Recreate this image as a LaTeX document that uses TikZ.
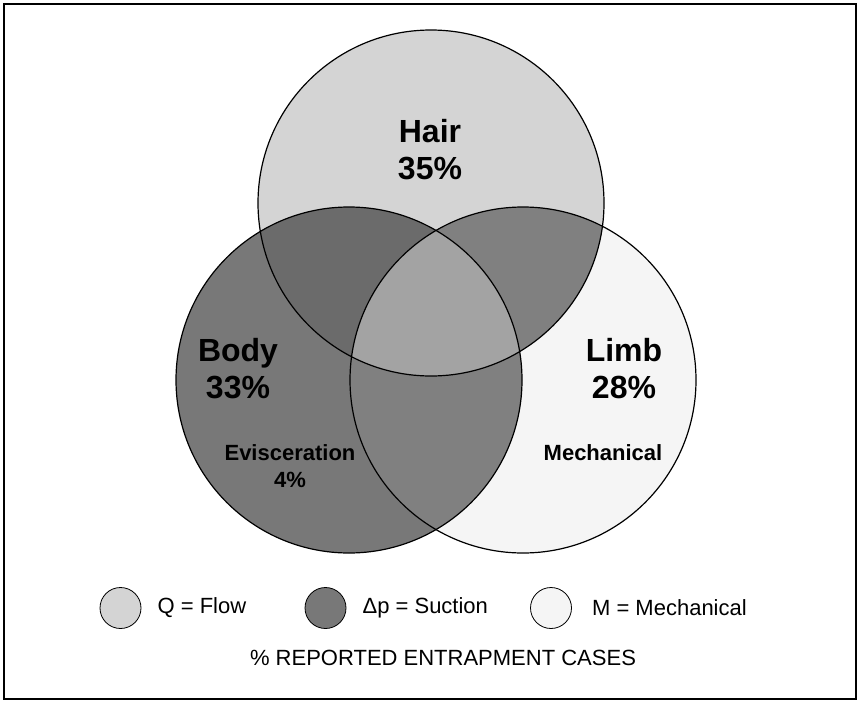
\documentclass[tikz,border=0pt]{standalone}
\usepackage{fontspec}
\setmainfont{Liberation Sans}
\usetikzlibrary{positioning}

\definecolor{flowfill}{gray}{0.83}
\definecolor{suctionfill}{gray}{0.47}
\definecolor{mechfill}{gray}{0.96}
\definecolor{hairbody}{gray}{0.42}
\definecolor{hairlimb}{gray}{0.50}
\definecolor{bodylimb}{gray}{0.50}
\definecolor{allthree}{gray}{0.64}

\begin{document}
\begin{tikzpicture}[
    x=1pt, y=-1pt,
    ring/.style={circle, draw=black, line width=1.2pt, minimum size=346pt, inner sep=0pt},
    key/.style={circle, draw=black, line width=0.8pt, minimum size=41pt, inner sep=0pt},
    big/.style={font=\fontsize{32}{37}\selectfont\bfseries, align=center},
    small/.style={font=\fontsize{22}{27}\selectfont\bfseries, align=center},
    legend/.style={font=\fontsize{22}{24}\selectfont, inner sep=0pt}
]
    \useasboundingbox (0,0) rectangle (858,701);
    \draw[line width=2pt] (3.5,4.5) rectangle (856,699);

    \coordinate (hairc) at (431,203);
    \coordinate (bodyc) at (349,380);
    \coordinate (limbc) at (523,380);

    % base fills
    \fill[flowfill] (hairc) circle (173);
    \fill[suctionfill] (bodyc) circle (173);
    \fill[mechfill] (limbc) circle (173);

    % overlaps
    \begin{scope}
        \clip (hairc) circle (173);
        \fill[hairbody] (bodyc) circle (173);
        \fill[hairlimb] (limbc) circle (173);
    \end{scope}
    \begin{scope}
        \clip (bodyc) circle (173);
        \fill[bodylimb] (limbc) circle (173);
        \clip (limbc) circle (173);
        \fill[allthree] (hairc) circle (173);
    \end{scope}

    \node[ring] (hair) at (hairc) {};
    \node[ring] (body) at (bodyc) {};
    \node[ring] (limb) at (limbc) {};

    \node[big] (hairlbl) at (430,150) {Hair\\35\%};
    \node[big] (bodylbl) at (238,369) {Body\\33\%};
    \node[big] (limblbl) at (624,369) {Limb\\28\%};
    \node[small] (evisc) at (290,466) {Evisceration\\4\%};
    \node[small] (mech) at (603,453) {Mechanical};

    % legend
    \node[key, fill=flowfill] (keyflow) at (120.5,608) {};
    \node[legend, right=16pt of keyflow] (txtflow) {Q = Flow};
    \node[key, fill=suctionfill] (keysuction) at (325.5,608) {};
    \node[legend, right=16pt of keysuction] (txtsuction) {Δp = Suction};
    \node[key, fill=mechfill] (keymech) at (551,608) {};
    \node[legend, right=20pt of keymech] (txtmech) {M = Mechanical};

    \node[legend] (caption) at (443,658) {\% REPORTED ENTRAPMENT CASES};
\end{tikzpicture}
\end{document}
